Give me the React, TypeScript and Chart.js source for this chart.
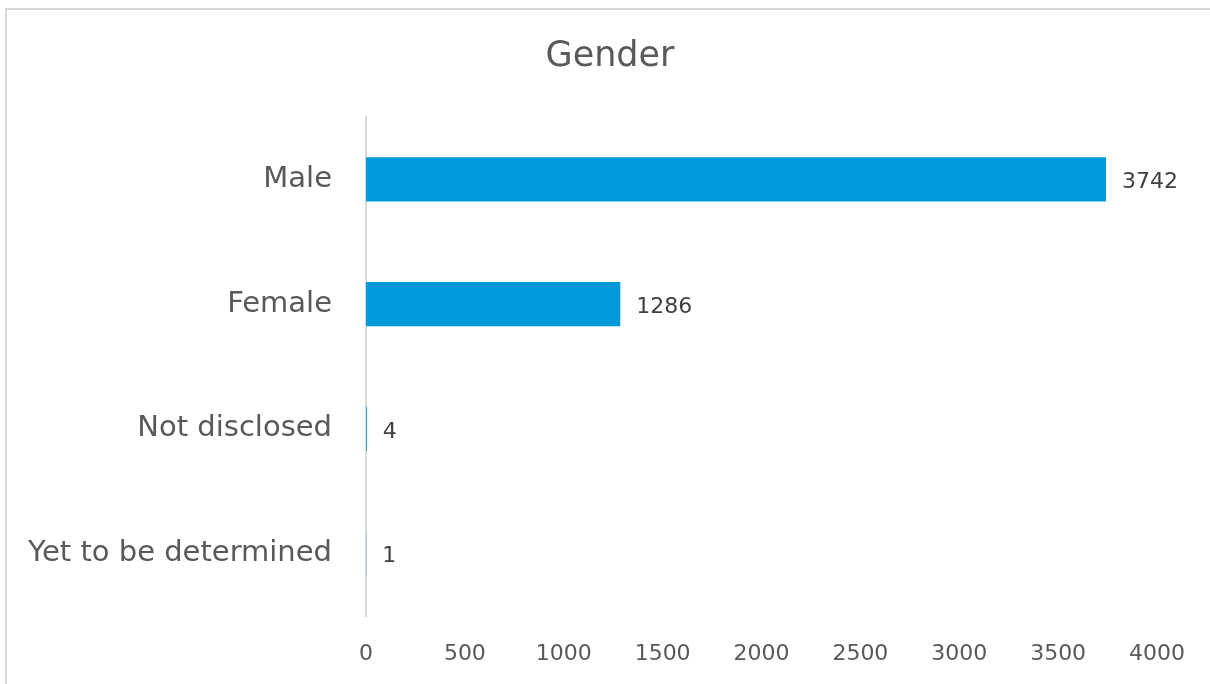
import React, { useEffect, useRef } from "react";
import { Chart, registerables } from "chart.js";

Chart.register(...registerables);

const categories: string[] = ["Male", "Female", "Not disclosed", "Yet to be determined"];
const counts: number[] = [3742, 1286, 4, 1];
const xTicks: number[] = [0, 500, 1000, 1500, 2000, 2500, 3000, 3500, 4000];
const chartTitle = "Gender";

const FONT = "'DejaVu Sans', 'Open Sans', sans-serif";

const valueLabels = {
  id: "valueLabels",
  afterDatasetsDraw(chart: any) {
    const ctx = chart.ctx;
    const meta = chart.getDatasetMeta(0);
    ctx.save();
    ctx.font = `22px ${FONT}`;
    ctx.fillStyle = "#404040";
    ctx.textAlign = "left";
    ctx.textBaseline = "middle";
    meta.data.forEach((bar: any, i: number) => {
      const v = chart.data.datasets[0].data[i];
      ctx.fillText(String(v), bar.x + 16, bar.y + 3);
    });
    ctx.restore();
  },
};

const titlePlugin = {
  id: "centeredTitle",
  afterDraw(chart: any) {
    const ctx = chart.ctx;
    ctx.save();
    ctx.font = `35px ${FONT}`;
    ctx.fillStyle = "#595959";
    ctx.textAlign = "center";
    ctx.textBaseline = "middle";
    ctx.fillText(chartTitle, 610, 57);
    ctx.restore();
  },
};

export default function App() {
  const ref = useRef<HTMLCanvasElement | null>(null);

  useEffect(() => {
    document.body.style.overflow = "hidden";
    if (!ref.current) return;
    const chart = new Chart(ref.current, {
      type: "bar",
      data: {
        labels: categories,
        datasets: [
          {
            data: counts,
            backgroundColor: "#009ADB",
            borderWidth: 0,
            categoryPercentage: 1,
            barPercentage: 0.355,
          },
        ],
      },
      options: {
        indexAxis: "y",
        animation: false,
        responsive: false,
        maintainAspectRatio: false,
        layout: { padding: { left: 0, right: 53, top: 117, bottom: 0 } },
        plugins: {
          legend: { display: false },
          tooltip: { enabled: false },
          title: { display: false },
        },
        scales: {
          x: {
            min: 0,
            max: 4000,
            afterBuildTicks(scale: any) {
              scale.ticks = xTicks.map((v) => ({ value: v }));
            },
            afterFit(scale: any) {
              scale.height = 68;
            },
            grid: { display: false, drawTicks: false },
            border: { display: false },
            ticks: {
              color: "#595959",
              font: { family: FONT, size: 22 },
              padding: 25,
              maxRotation: 0,
              callback: (v: any) => String(v),
            },
          },
          y: {
            afterFit(scale: any) {
              scale.width = 366;
            },
            grid: { color: "transparent", drawTicks: false },
            border: { display: true, color: "#d9d9d9", width: 2 },
            ticks: {
              color: "#595959",
              font: { family: FONT, size: 29 },
              padding: 34,
            },
          },
        },
      },
      plugins: [valueLabels, titlePlugin],
    });
    return () => chart.destroy();
  }, []);

  return (
    <div style={{ position: "absolute", left: 0, top: 0, width: 1210, height: 684 }}>
      <div
        style={{
          position: "absolute",
          left: 5,
          top: 8,
          width: 1210,
          height: 700,
          borderLeft: "2px solid #d9d9d9",
          borderTop: "2px solid #d9d9d9",
          boxSizing: "border-box",
        }}
      />
      <canvas ref={ref} width={1210} height={684} style={{ position: "absolute", left: 0, top: 0 }} />
    </div>
  );
}
